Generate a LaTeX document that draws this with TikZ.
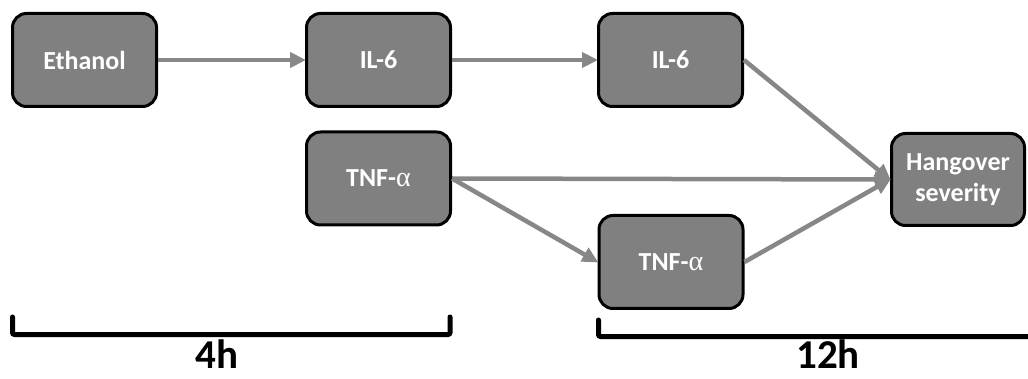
\documentclass[tikz,border=0pt]{standalone}
\usepackage{fontspec}
\setmainfont{Carlito}
\newfontfamily\greekfont{Liberation Serif}
\usetikzlibrary{arrows.meta}
\definecolor{boxgray}{HTML}{808080}
\definecolor{linkgray}{HTML}{878787}
\newcommand{\galpha}{{\greekfont\mdseries\fontsize{28}{31}\selectfont α}}
\begin{document}
\begin{tikzpicture}[x=1pt,y=-1pt,
  factor/.style={draw=black, line width=3pt, fill=boxgray, rounded corners=14pt,
    minimum width=144pt, minimum height=93pt, inner sep=0pt,
    text=white, font=\fontsize{26}{31}\selectfont\bfseries, align=center},
  link/.style={draw=linkgray, line width=4.5pt,
    -{Triangle[length=16pt,width=15pt]}, shorten >=-1pt},
  bracket/.style={line width=5pt, line cap=round, rounded corners=2pt},
  period/.style={anchor=base, inner sep=0pt, font=\fontsize{41}{45}\selectfont\bfseries}]
\useasboundingbox (0,0) rectangle (1028,379);

% factors measured at 4h
\node[factor] (eth)  at (84.5,60)   {Ethanol};
\node[factor] (il6a) at (378.5,60)  {IL-6};
\node[factor] (tnfa) at (378.5,178.5) {TNF-\galpha};

% factors measured at 12h
\node[factor] (il6b) at (670.5,60)  {IL-6};
\node[factor] (tnfb) at (671,262)   {TNF-\galpha};

% outcome
\node[factor, minimum width=133pt, minimum height=92pt] (hang) at (958,179.5)
  {Hangover\\severity};

% paths
\draw[link] (eth.east)  -- (il6a.west);
\draw[link] (il6a.east) -- (il6b.west);
\draw[link] (il6b.east) -- (hang.west);
\draw[link] (tnfa.east) -- (hang.west);
\draw[link] (tnfa.east) -- (tnfb.west);
\draw[link] (tnfb.east) -- (hang.west);

% time brackets
\coordinate (b4l) at (12.5,317);
\coordinate (b4r) at (450,317);
\draw[bracket] (b4l) |- (231,334.5) -| (b4r);
\node[period] (t4) at (217,368.5) {4h};

\coordinate (b12l) at (598.5,320);
\coordinate (b12r) at (1030,336.5);
\draw[bracket] (b12l) |- (b12r);
\node[period] (t12) at (828,368.5) {12h};
\end{tikzpicture}
\end{document}
